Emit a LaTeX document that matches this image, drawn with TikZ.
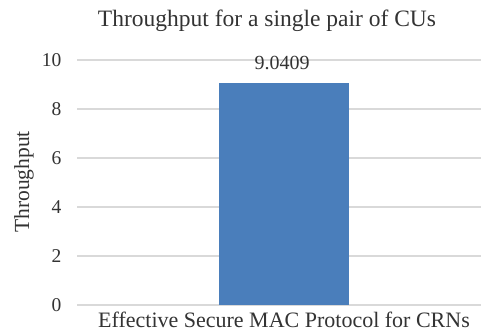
\documentclass[tikz,border=0pt]{standalone}
\usepackage{fontspec}
\setmainfont{Liberation Serif}
\definecolor{txt}{HTML}{333333}
\definecolor{grid}{HTML}{D9D9D9}
\definecolor{barblue}{HTML}{4A7EBB}
\begin{document}
\begin{tikzpicture}[x=1pt,y=-1pt,
  gridline/.style={draw=grid,line width=1.5pt},
  ticklabel/.style={anchor=east,text=txt,font=\fontsize{19.5}{20}\selectfont,inner sep=0pt},
  barstyle/.style={fill=barblue,draw=none}]
\useasboundingbox (0,0) rectangle (481,333);
\fill[white] (0,0) rectangle (481,333);
% gridlines and tick labels
\foreach \v in {0,2,4,6,8,10}{
  \pgfmathsetmacro{\yy}{305-24.5*\v}
  \coordinate (gl\v) at (77,\yy);
  \coordinate (gr\v) at (481,\yy);
  \draw[gridline] (gl\v) -- (gr\v);
  \node[ticklabel] (t\v) at (61.5,\yy) {\v};
}
% bar
\node[barstyle,minimum width=130pt,minimum height=221.5pt,inner sep=0pt,anchor=south] (bar) at (284,305) {};
% value label
\node[text=txt,font=\fontsize{20}{20}\selectfont,inner sep=0pt] (val) at (282,63) {9.0409};
% title
\node[text=txt,font=\fontsize{23.5}{24}\selectfont,inner sep=0pt] (title) at (267,21) {Throughput for a single pair of CUs};
% axis title
\node[text=txt,font=\fontsize{21.5}{22}\selectfont,inner sep=0pt,rotate=90] (ytitle) at (24,182) {Throughput};
% category label
\node[text=txt,font=\fontsize{22}{22}\selectfont,inner sep=0pt] (cat) at (284,320) {Effective Secure MAC Protocol for CRNs};
\end{tikzpicture}
\end{document}
